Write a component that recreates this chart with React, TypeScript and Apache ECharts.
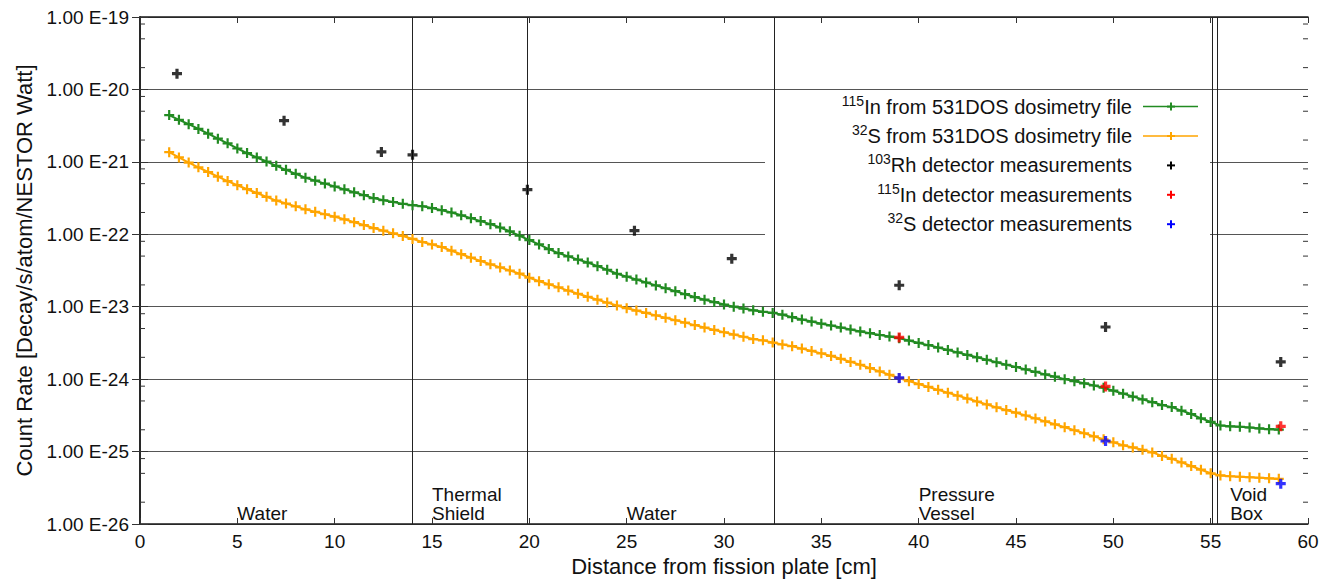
import React, { useEffect, useRef } from "react";
import * as echarts from "echarts";

// ---- data ----
const curveX = [
  1.5, 2, 2.5, 3, 3.5, 4, 4.5, 5, 5.5, 6, 6.5, 7, 7.5, 8, 8.5, 9, 9.5, 10, 10.5, 11,
  11.5, 12, 12.5, 13, 13.5, 14, 14.5, 15, 15.5, 16, 16.5, 17, 17.5, 18, 18.5, 19, 19.5, 20,
  20.5, 21, 21.5, 22, 22.5, 23, 23.5, 24, 24.5, 25, 25.5, 26, 26.5, 27, 27.5, 28, 28.5, 29,
  29.5, 30, 30.5, 31, 31.5, 32, 32.5, 33, 33.5, 34, 34.5, 35, 35.5, 36, 36.5, 37, 37.5, 38,
  38.5, 39, 39.5, 40, 40.5, 41, 41.5, 42, 42.5, 43, 43.5, 44, 44.5, 45, 45.5, 46, 46.5, 47,
  47.5, 48, 48.5, 49, 49.5, 50, 50.5, 51, 51.5, 52, 52.5, 53, 53.5, 54, 54.5, 55, 55.5, 56,
  56.5, 57, 57.5, 58, 58.5,
];

const in115Curve = [
  4.42e-21, 3.8e-21, 3.31e-21, 2.85e-21, 2.45e-21, 2.09e-21, 1.8e-21, 1.53e-21, 1.32e-21, 1.15e-21,
  1.01e-21, 8.81e-22, 7.76e-22, 6.84e-22, 6.03e-22, 5.5e-22, 5.01e-22, 4.57e-22, 4.17e-22, 3.8e-22,
  3.47e-22, 3.16e-22, 2.95e-22, 2.79e-22, 2.63e-22, 2.52e-22, 2.44e-22, 2.3e-22, 2.15e-22, 2.0e-22,
  1.83e-22, 1.67e-22, 1.52e-22, 1.38e-22, 1.24e-22, 1.1e-22, 9.55e-23, 8.32e-23, 7.24e-23, 6.24e-23,
  5.5e-23, 4.95e-23, 4.47e-23, 4.07e-23, 3.63e-23, 3.24e-23, 2.85e-23, 2.6e-23, 2.37e-23, 2.16e-23,
  1.97e-23, 1.8e-23, 1.64e-23, 1.49e-23, 1.36e-23, 1.25e-23, 1.16e-23, 1.07e-23, 1.0e-23, 9.44e-24,
  8.91e-24, 8.51e-24, 8.22e-24, 7.76e-24, 7.16e-24, 6.65e-24, 6.24e-24, 5.83e-24, 5.5e-24, 5.16e-24,
  4.85e-24, 4.56e-24, 4.31e-24, 4.07e-24, 3.87e-24, 3.67e-24, 3.41e-24, 3.16e-24, 2.95e-24, 2.73e-24,
  2.53e-24, 2.34e-24, 2.16e-24, 2.0e-24, 1.85e-24, 1.71e-24, 1.58e-24, 1.47e-24, 1.36e-24, 1.26e-24,
  1.16e-24, 1.08e-24, 1.0e-24, 9.38e-25, 8.75e-25, 8.17e-25, 7.62e-25, 6.92e-25, 6.31e-25, 5.75e-25,
  5.25e-25, 4.81e-25, 4.39e-25, 4.11e-25, 3.67e-25, 3.3e-25, 2.88e-25, 2.57e-25, 2.29e-25, 2.23e-25,
  2.2e-25, 2.15e-25, 2.09e-25, 2.04e-25, 2.01e-25,
];

const s32Curve = [
  1.36e-21, 1.15e-21, 9.77e-22, 8.41e-22, 7.24e-22, 6.24e-22, 5.43e-22, 4.76e-22, 4.19e-22, 3.72e-22,
  3.29e-22, 2.92e-22, 2.66e-22, 2.43e-22, 2.21e-22, 2.04e-22, 1.89e-22, 1.75e-22, 1.61e-22, 1.47e-22,
  1.34e-22, 1.22e-22, 1.12e-22, 1.03e-22, 9.48e-23, 8.63e-23, 7.83e-23, 7.24e-23, 6.67e-23, 5.93e-23,
  5.31e-23, 4.76e-23, 4.28e-23, 3.85e-23, 3.49e-23, 3.16e-23, 2.86e-23, 2.51e-23, 2.25e-23, 2.04e-23,
  1.85e-23, 1.67e-23, 1.51e-23, 1.37e-23, 1.25e-23, 1.14e-23, 1.04e-23, 9.55e-24, 8.85e-24, 8.2e-24,
  7.6e-24, 7.03e-24, 6.5e-24, 6.03e-24, 5.57e-24, 5.15e-24, 4.78e-24, 4.44e-24, 4.13e-24, 3.85e-24,
  3.58e-24, 3.43e-24, 3.2e-24, 3.01e-24, 2.85e-24, 2.64e-24, 2.45e-24, 2.27e-24, 2.09e-24, 1.91e-24,
  1.73e-24, 1.58e-24, 1.42e-24, 1.28e-24, 1.15e-24, 1.03e-24, 9.38e-25, 8.55e-25, 7.8e-25, 7.11e-25,
  6.49e-25, 5.92e-25, 5.4e-25, 4.91e-25, 4.47e-25, 4.08e-25, 3.74e-25, 3.44e-25, 3.15e-25, 2.87e-25,
  2.61e-25, 2.38e-25, 2.17e-25, 1.97e-25, 1.79e-25, 1.62e-25, 1.48e-25, 1.34e-25, 1.22e-25, 1.14e-25,
  1.06e-25, 9.73e-26, 8.71e-26, 7.94e-26, 7.08e-26, 6.31e-26, 5.62e-26, 5.01e-26, 4.68e-26, 4.56e-26,
  4.49e-26, 4.42e-26, 4.35e-26, 4.27e-26, 4.2e-26,
];

const rhMeasX = [1.9, 7.4, 12.4, 14.0, 19.9, 25.4, 30.4, 39.0, 49.6, 58.6];
const rhMeasY = [1.65e-20, 3.7e-21, 1.37e-21, 1.25e-21, 4.13e-22, 1.12e-22, 4.6e-23, 1.98e-23, 5.25e-24, 1.73e-24];
const detX = [39.0, 49.6, 58.6];
const inMeasY = [3.77e-24, 7.94e-25, 2.23e-25];
const sMeasY = [1.04e-24, 1.4e-25, 3.6e-26];

const boundaries = [13.97, 19.88, 32.56, 55.07, 55.35];
const regionX = [5, 15, 25, 40, 56];
const regionNames = ["Water", "Thermal\nShield", "Water", "Pressure\nVessel", "Void\nBox"];

const yMin = 1e-26;
const yMax = 1e-19;
const minorTicks = [
  2e-26, 5e-26, 8e-26, 2e-25, 5e-25, 8e-25, 2e-24, 5e-24, 8e-24, 2e-23, 5e-23, 8e-23,
  2e-22, 5e-22, 8e-22, 2e-21, 5e-21, 8e-21, 2e-20, 5e-20, 8e-20,
];

const legendSup = ["115", "32", "103", "115", "32"];
const legendText = [
  "In from 531DOS dosimetry file",
  "S from 531DOS dosimetry file",
  "Rh detector measurements",
  "In detector measurements",
  "S detector measurements",
];
const GREEN = "#228B22";
const ORANGE = "#FFA500";
const legendColors = [GREEN, ORANGE, "#000000", "#ff0000", "#0000ff"];
const legendHasLine = [true, true, false, false, false];

const FONT = "'Liberation Sans', Arial, Helvetica, sans-serif";
const TEXT = "#111111";
const crossPath = "path://M-1,-0.22L1,-0.22L1,0.22L-1,0.22Z M-0.22,-1L0.22,-1L0.22,1L-0.22,1Z";
const boldCross = "path://M-1,-0.32L1,-0.32L1,0.32L-1,0.32Z M-0.32,-1L0.32,-1L0.32,1L-0.32,1Z";

// ECharts rounds tiny numbers to 20 decimals, so values are expressed in units of 1e-26 on the log axis
const UNIT = 1e-26;
const u = (v: number) => v / UNIT;

export default function App() {
  const ref = useRef<HTMLDivElement>(null);

  useEffect(() => {
    if (!ref.current) return;
    const chart = echarts.init(ref.current, undefined, { renderer: "svg" });

    const legendRowY = [106.6, 136, 165.4, 194.8, 224.2];
    const legendGraphics: any[] = [
      { type: "rect", z: 1, shape: { x: 765, y: 91, width: 445, height: 151 }, style: { fill: "#ffffff" }, silent: true },
    ];
    legendText.forEach((t, i) => {
      const y = legendRowY[i];
      legendGraphics.push({
        type: "text",
        z: 10,
        x: 1132,
        y,
        style: {
          text: `{sup|${legendSup[i]}}{main|${t}}`,
          align: "right",
          verticalAlign: "middle",
          fill: TEXT,
          rich: {
            sup: { fontSize: 14, lineHeight: 14, verticalAlign: "top", fontFamily: FONT, fill: TEXT },
            main: { fontSize: 20, lineHeight: 26, fontFamily: FONT, fill: TEXT },
          },
        },
      });
      if (legendHasLine[i]) {
        legendGraphics.push({
          type: "line",
          z: 10,
          shape: { x1: 1143, y1: y, x2: 1198, y2: y },
          style: { stroke: legendColors[i], lineWidth: 1.5 },
        });
      }
      legendGraphics.push({
        type: "line",
        z: 10,
        shape: { x1: 1167, y1: y, x2: 1175, y2: y },
        style: { stroke: legendColors[i], lineWidth: 2 },
      });
      legendGraphics.push({
        type: "line",
        z: 10,
        shape: { x1: 1171, y1: y - 4, x2: 1171, y2: y + 4 },
        style: { stroke: legendColors[i], lineWidth: 2 },
      });
    });

    const axisLineStyle = { color: "#1a1a1a", width: 1.5 };
    const expLabel = (v: number) => `1.00 E${Math.round(Math.log10(v) + Math.log10(UNIT))}`;

    chart.setOption({
      animation: false,
      backgroundColor: "#ffffff",
      textStyle: { fontFamily: FONT },
      grid: { left: 140, right: 16, top: 17, bottom: 55, containLabel: false, outerBoundsMode: "none" },
      xAxis: [
        {
          type: "value",
          min: 0,
          max: 60,
          interval: 5,
          position: "bottom",
          axisLine: { show: true, lineStyle: axisLineStyle },
          axisTick: { show: true, inside: true, length: 6, lineStyle: { color: "#333" } },
          axisLabel: { fontSize: 19, color: TEXT, margin: 8, fontFamily: FONT },
          splitLine: { show: false },
          name: "Distance from fission plate [cm]",
          nameLocation: "middle",
          nameGap: 31,
          nameTextStyle: { fontSize: 22, color: TEXT, fontFamily: FONT },
        },
        {
          type: "value",
          min: 0,
          max: 60,
          interval: 5,
          position: "top",
          axisLine: { show: true, lineStyle: axisLineStyle },
          axisTick: { show: true, inside: true, length: 6, lineStyle: { color: "#333" } },
          axisLabel: { show: false },
          splitLine: { show: false },
        },
      ],
      yAxis: [
        {
          type: "log",
          logBase: 10,
          min: u(yMin),
          max: u(yMax),
          splitNumber: 7,
          position: "left",
          axisLine: { show: true, lineStyle: axisLineStyle },
          axisTick: { show: true, inside: true, length: 8, lineStyle: { color: "#333" } },
          axisLabel: {
            fontSize: 19,
            color: TEXT,
            margin: 11,
            fontFamily: FONT,
            formatter: expLabel,
          },
          splitLine: { show: true, lineStyle: { color: "#555", width: 1 } },
          name: "Count Rate [Decay/s/atom/NESTOR Watt]",
          nameLocation: "middle",
          nameGap: 104,
          nameTextStyle: { fontSize: 22, color: TEXT, fontFamily: FONT },
        },
        {
          type: "log",
          logBase: 10,
          min: u(yMin),
          max: u(yMax),
          splitNumber: 7,
          position: "right",
          axisLine: { show: true, lineStyle: axisLineStyle },
          axisTick: { show: true, inside: true, length: 8, lineStyle: { color: "#333" } },
          axisLabel: { show: false },
          splitLine: { show: false },
        },
      ],
      graphic: legendGraphics,
      series: [
        {
          name: "regions",
          type: "custom",
          silent: true,
          clip: false,
          z: 4,
          data: regionX.map((x, i) => ({ value: [x, u(yMin)], name: regionNames[i] })),
          renderItem: (params: any, api: any) => {
            const p = api.coord([api.value(0), api.value(1)]);
            return {
              type: "text",
              x: p[0],
              y: p[1] - 1,
              style: {
                text: regionNames[params.dataIndex],
                fontSize: 19,
                lineHeight: 19,
                fontFamily: FONT,
                fill: TEXT,
                align: "left",
                verticalAlign: "bottom",
              },
            };
          },
          markLine: {
            silent: true,
            symbol: ["none", "none"],
            label: { show: false },
            lineStyle: { color: "#222", width: 1, type: "solid" },
            data: boundaries.map((b) => ({ xAxis: b })),
          },
        },
        {
          name: "115In from 531DOS dosimetry file",
          type: "line",
          data: curveX.map((x, i) => [x, u(in115Curve[i])]),
          symbol: crossPath,
          symbolSize: 10,
          showAllSymbol: true,
          lineStyle: { color: GREEN, width: 2 },
          itemStyle: { color: GREEN },
          z: 5,
          silent: true,
        },
        {
          name: "32S from 531DOS dosimetry file",
          type: "line",
          data: curveX.map((x, i) => [x, u(s32Curve[i])]),
          symbol: crossPath,
          symbolSize: 10,
          showAllSymbol: true,
          lineStyle: { color: ORANGE, width: 2 },
          itemStyle: { color: ORANGE },
          z: 5,
          silent: true,
        },
        {
          name: "103Rh detector measurements",
          type: "scatter",
          data: rhMeasX.map((x, i) => [x, u(rhMeasY[i])]),
          symbol: boldCross,
          symbolSize: 10,
          itemStyle: { color: "#000000" },
          z: 6,
          silent: true,
        },
        {
          name: "115In detector measurements",
          type: "scatter",
          data: detX.map((x, i) => [x, u(inMeasY[i])]),
          symbol: boldCross,
          symbolSize: 10,
          itemStyle: { color: "#ff0000" },
          z: 6,
          silent: true,
        },
        {
          name: "32S detector measurements",
          type: "scatter",
          data: detX.map((x, i) => [x, u(sMeasY[i])]),
          symbol: boldCross,
          symbolSize: 10,
          itemStyle: { color: "#0000ff" },
          z: 6,
          silent: true,
        },
        {
          name: "minorTicks",
          type: "custom",
          silent: true,
          clip: false,
          z: 7,
          data: minorTicks.map((v) => [0, u(v)]),
          renderItem: (params: any, api: any) => {
            const v = api.value(1);
            const l = api.coord([0, v]);
            const r = api.coord([60, v]);
            return {
              type: "group",
              children: [
                { type: "line", shape: { x1: l[0], y1: l[1], x2: l[0] + 5, y2: l[1] }, style: { stroke: "#333", lineWidth: 1 } },
                { type: "line", shape: { x1: r[0], y1: r[1], x2: r[0] - 5, y2: r[1] }, style: { stroke: "#333", lineWidth: 1 } },
              ],
            };
          },
        },
      ],
    });

    return () => chart.dispose();
  }, []);

  return (
    <div
      ref={ref}
      style={{ position: "fixed", left: 0, top: 0, width: 1324, height: 579, background: "#fff" }}
    />
  );
}
